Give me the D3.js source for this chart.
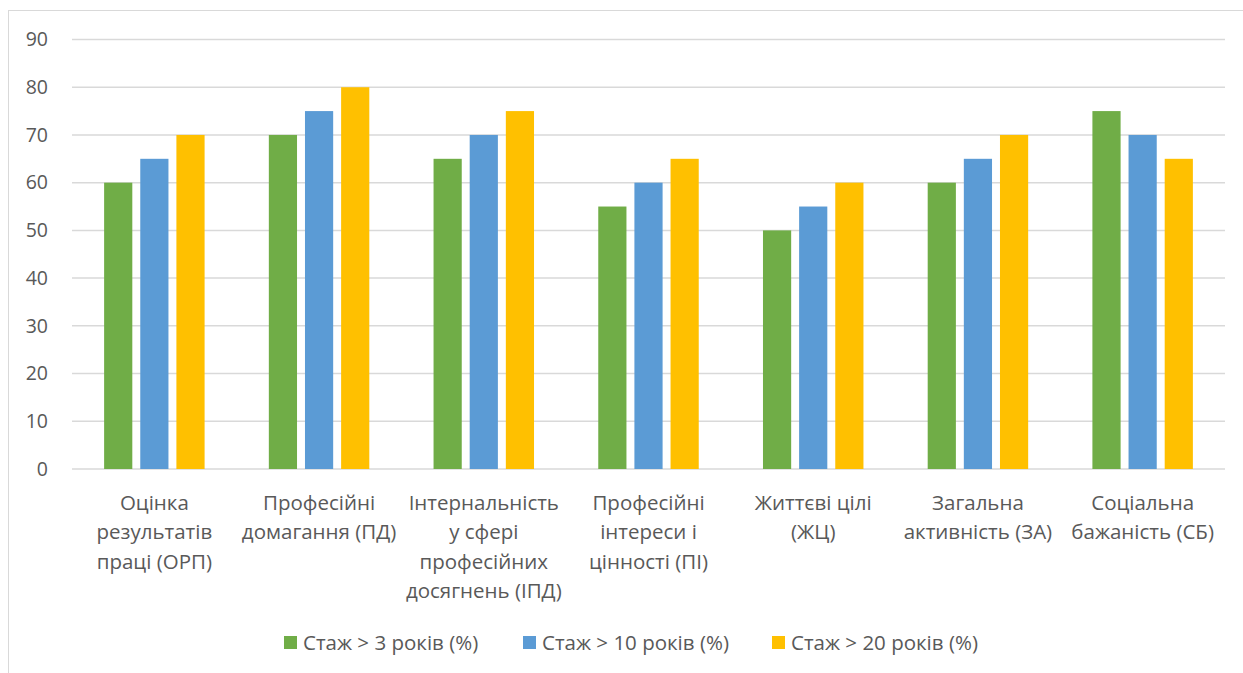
<!DOCTYPE html>
<html>
<head>
<meta charset="utf-8">
<script src="https://cdn.jsdelivr.net/npm/d3@7"></script>
<style>
  html, body { margin: 0; padding: 0; background: #fff; }
  svg { display: block; }
  text { font-family: "Open Sans", "Noto Sans", sans-serif; fill: #595959; }
</style>
</head>
<body>
<svg id="chart" width="1243" height="673"></svg>
<script>
// Category labels, one array entry per wrapped line
const categories = [
  ["Оцінка", "результатів", "праці (ОРП)"],
  ["Професійні", "домагання (ПД)"],
  ["Інтернальність", "у сфері", "професійних", "досягнень (ІПД)"],
  ["Професійні", "інтереси і", "цінності (ПІ)"],
  ["Життєві цілі", "(ЖЦ)"],
  ["Загальна", "активність (ЗА)"],
  ["Соціальна", "бажаність (СБ)"]
];
const seriesNames = ["Стаж > 3 років (%)", "Стаж > 10 років (%)", "Стаж > 20 років (%)"];
const stazh3 = [60, 70, 65, 55, 50, 60, 75];
const stazh10 = [65, 75, 70, 60, 55, 65, 70];
const stazh20 = [70, 80, 75, 65, 60, 70, 65];
const yTicks = [0, 10, 20, 30, 40, 50, 60, 70, 80, 90];
const colors = ["#70AD47", "#5B9BD5", "#FFC000"];

const series = [stazh3, stazh10, stazh20];
const svg = d3.select("#chart");

// outer frame
svg.append("rect")
  .attr("x", 8.5).attr("y", 10.5)
  .attr("width", 1260).attr("height", 700)
  .attr("fill", "none").attr("stroke", "#d9d9d9").attr("stroke-width", 1);

const plot = { left: 72, right: 1225, top: 39.5, bottom: 469 };

const x0 = d3.scaleBand()
  .domain(d3.range(categories.length))
  .range([plot.left, plot.right])
  .paddingInner(0.39).paddingOuter(0.195);

const x1 = d3.scaleBand()
  .domain(d3.range(series.length))
  .range([0, x0.bandwidth()])
  .paddingInner(0.22);

const y = d3.scaleLinear().domain([0, 90]).range([plot.bottom, plot.top]);

// gridlines
svg.append("g").selectAll("line").data(yTicks).join("line")
  .attr("x1", plot.left).attr("x2", plot.right)
  .attr("y1", d => y(d)).attr("y2", d => y(d))
  .attr("stroke", "#d9d9d9").attr("stroke-width", 1.5);

// y tick labels
svg.append("g").selectAll("text").data(yTicks).join("text")
  .attr("x", 48).attr("y", d => y(d))
  .attr("dy", "0.35em")
  .attr("text-anchor", "end")
  .style("font-size", "19.5px")
  .text(d => d);

// bars
const groups = svg.append("g").selectAll("g").data(categories).join("g")
  .attr("transform", (d, i) => `translate(${x0(i)},0)`);

groups.selectAll("rect")
  .data((d, i) => series.map((s, k) => ({ k, v: s[i] })))
  .join("rect")
  .attr("x", d => x1(d.k))
  .attr("width", x1.bandwidth())
  .attr("y", d => y(d.v))
  .attr("height", d => y(0) - y(d.v))
  .attr("fill", d => colors[d.k]);

// category labels
const labels = svg.append("g").selectAll("text").data(categories).join("text")
  .attr("text-anchor", "middle")
  .style("font-size", "20.5px")
  .attr("transform", (d, i) => `translate(${x0(i) + x0.bandwidth() / 2},510)`);
labels.selectAll("tspan").data(d => d).join("tspan")
  .attr("x", 0).attr("y", (d, j) => j * 29.3)
  .text(d => d);

// legend
const legendItems = [
  { x: 284, name: seriesNames[0], color: colors[0] },
  { x: 523, name: seriesNames[1], color: colors[1] },
  { x: 772, name: seriesNames[2], color: colors[2] }
];
const lg = svg.append("g").selectAll("g").data(legendItems).join("g")
  .attr("transform", d => `translate(${d.x},636)`);
lg.append("rect").attr("width", 13).attr("height", 13).attr("fill", d => d.color);
lg.append("text").attr("x", 19).attr("y", 6.5).attr("dy", "0.35em")
  .style("font-size", "20.5px")
  .text(d => d.name);
</script>
</body>
</html>
